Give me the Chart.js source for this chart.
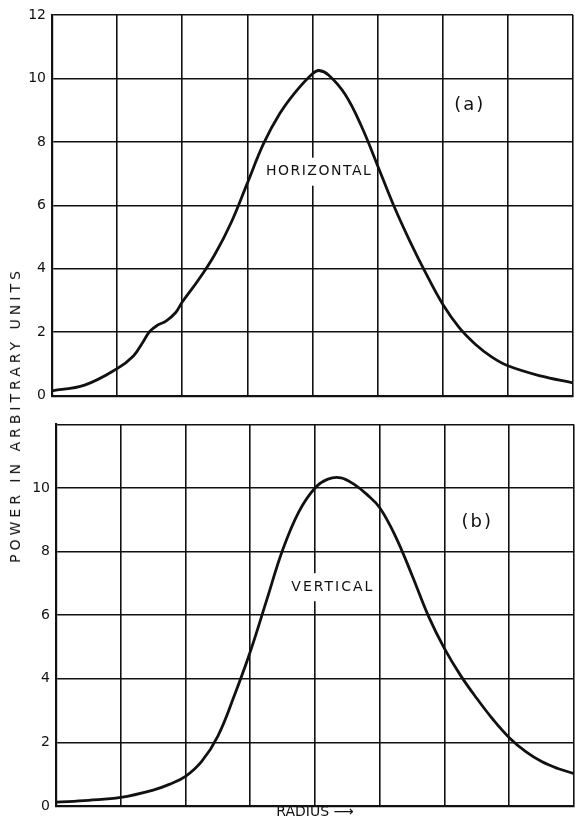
<!DOCTYPE html>
<html>
<head>
<meta charset="utf-8">
<script src="https://cdn.jsdelivr.net/npm/chart.js@4"></script>
<style>
  html, body {
    margin: 0;
    padding: 0;
    background: white;
  }
  body {
    position: relative;
    width: 575px;
    height: 821px;
    overflow: hidden;
  }
  .panel {
    position: absolute;
    left: 0;
  }
  #ylabel {
    position: absolute;
    left: 15px;
    top: 415px;
    transform: translate(-50%, -50%) rotate(-90deg);
    font: 14px "DejaVu Sans", sans-serif;
    letter-spacing: 4px;
    white-space: nowrap;
    color: #111;
  }
</style>
</head>
<body>

<div class="panel" style="top:0; width:575px; height:410px;">
  <canvas id="top"></canvas>
</div>
<div class="panel" style="top:410px; width:575px; height:411px;">
  <canvas id="bottom"></canvas>
</div>
<div id="ylabel">POWER IN ARBITRARY UNITS</div>

<script>
'use strict';

// radius in grid divisions, power in arbitrary units
const radiusH = [0, 0.5, 1, 1.25, 1.4, 1.5, 1.62, 1.75, 1.9, 2.0, 2.25, 2.5, 2.75, 3.0, 3.25,
  3.5, 3.75, 4.0, 4.1, 4.25, 4.5, 4.75, 5.0, 5.25, 5.5, 5.75, 6.0, 6.25, 6.5, 6.75, 7.0, 7.5, 8.0];
const powerH = [0.15, 0.33, 0.85, 1.25, 1.7, 2.02, 2.22, 2.35, 2.62, 2.95, 3.65, 4.45, 5.45, 6.7, 7.95,
  8.9, 9.6, 10.15, 10.25, 10.1, 9.5, 8.5, 7.25, 5.98, 4.85, 3.82, 2.88, 2.15, 1.62, 1.22, 0.94, 0.62, 0.4];

const radiusV = [0, 0.5, 1.0, 1.5, 1.75, 2.0, 2.25, 2.5, 2.75, 3.0, 3.25, 3.5, 3.75, 4.0, 4.2,
  4.4, 4.6, 4.8, 5.0, 5.25, 5.5, 5.75, 6.0, 6.25, 6.5, 6.75, 7.0, 7.25, 7.5, 7.75, 8.0];
const powerV = [0.12, 0.18, 0.27, 0.5, 0.68, 0.93, 1.4, 2.2, 3.45, 4.85, 6.45, 8.05, 9.25, 10.0, 10.28,
  10.32, 10.12, 9.8, 9.38, 8.45, 7.25, 5.98, 4.95, 4.1, 3.38, 2.72, 2.15, 1.72, 1.4, 1.18, 1.02];

const yTicksTop = [0, 2, 4, 6, 8, 10, 12];
const yTicksBottom = [0, 2, 4, 6, 8, 10];

const INK = '#111';
const FONT = '"DejaVu Sans", sans-serif';

function points(xs, ys) {
  return xs.map((x, i) => ({x: x, y: ys[i]}));
}

// text labels inside the plot, with a white patch so the grid breaks round them
const labelPlugin = {
  id: 'labels',
  beforeDatasetsDraw(chart, args, opts) {
    const ctx = chart.ctx;
    const xs = chart.scales.x;
    const ys = chart.scales.y;
    (opts.items || []).forEach((item) => {
      const px = xs.getPixelForValue(item.x);
      const py = ys.getPixelForValue(item.y);
      ctx.save();
      ctx.font = item.size + 'px ' + FONT;
      ctx.letterSpacing = item.spacing + 'px';
      ctx.textAlign = 'center';
      ctx.textBaseline = 'middle';
      const w = ctx.measureText(item.text).width;
      ctx.fillStyle = 'white';
      ctx.fillRect(px - w / 2 - 4, py - item.size, w + 8, item.size * 2);
      ctx.fillStyle = INK;
      ctx.fillText(item.text, px + item.spacing / 2, py);
      ctx.restore();
    });
  }
};

function makeChart(id, xs, ys, opt) {
  return new Chart(document.getElementById(id), {
    type: 'scatter',
    data: {
      datasets: [{
        data: points(xs, ys),
        showLine: true,
        borderColor: INK,
        borderWidth: 2.8,
        pointRadius: 0,
        tension: 0.4,
      }]
    },
    plugins: [labelPlugin],
    options: {
      responsive: true,
      maintainAspectRatio: false,
      animation: false,
      events: [],
      layout: {
        padding: {left: 0, right: opt.right, top: opt.top, bottom: 0}
      },
      plugins: {
        legend: {display: false},
        tooltip: {enabled: false},
        labels: {items: opt.labels}
      },
      scales: {
        x: {
          type: 'linear',
          min: 0,
          max: 8,
          ticks: {stepSize: 1, display: false},
          grid: {color: INK, lineWidth: 1.6, drawTicks: false},
          border: {color: INK, width: 2.2},
          title: opt.xTitle ? {
            display: true,
            text: opt.xTitle,
            color: INK,
            font: {family: FONT, size: 14},
            padding: {top: 0, bottom: 0}
          } : {display: false},
          afterFit(scale) { scale.height = opt.xHeight; }
        },
        y: {
          min: 0,
          max: 12,
          afterBuildTicks(scale) {
            scale.ticks = yTicksTop.map((v) => ({value: v}));
          },
          ticks: {
            color: INK,
            padding: 6,
            font: {family: FONT, size: 14},
            callback: (v) => opt.yTicks.includes(v) ? String(v) : ''
          },
          grid: {color: INK, lineWidth: 1.6, drawTicks: false},
          border: {color: INK, width: 2.2},
          afterFit(scale) { scale.width = opt.left; }
        }
      }
    }
  });
}

makeChart('top', radiusH, powerH, {
  left: 52, right: 2, top: 15, xHeight: 11,
  yTicks: yTicksTop,
  labels: [
    {text: 'HORIZONTAL', x: 4.09, y: 7.06, size: 14, spacing: 1.5},
    {text: '(a)', x: 6.4, y: 9.16, size: 18, spacing: 2}
  ]
});

makeChart('bottom', radiusV, powerV, {
  left: 56, right: 1, top: 11, xHeight: 15,
  yTicks: yTicksBottom,
  xTitle: 'RADIUS \u27F6',
  labels: [
    {text: 'VERTICAL', x: 4.26, y: 6.88, size: 14, spacing: 2},
    {text: '(b)', x: 6.49, y: 8.92, size: 18, spacing: 2}
  ]
});
</script>
</body>
</html>
